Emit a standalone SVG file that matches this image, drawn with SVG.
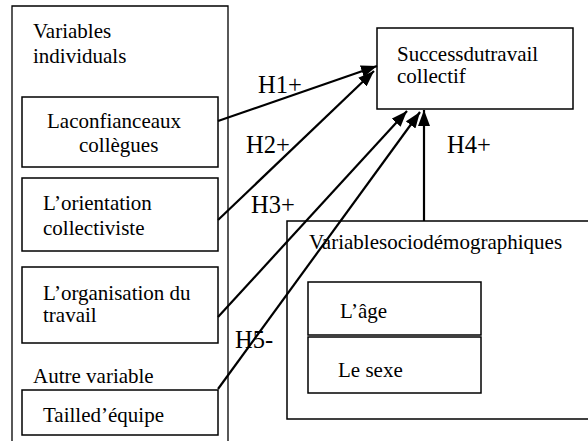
<svg xmlns="http://www.w3.org/2000/svg" width="588" height="441" viewBox="0 0 588 441">
<defs>
<style>
text{font-family:'Liberation Serif','DejaVu Serif',serif;font-size:21px;fill:#000}
.h{font-size:24.5px}
.box{fill:none;stroke:#000;stroke-width:1.5}
.outer{fill:none;stroke:#000;stroke-width:1.3}
.con{fill:none;stroke:#000;stroke-width:2.2}
</style>
<marker id="arr" markerUnits="userSpaceOnUse" markerWidth="18" markerHeight="12" refX="16" refY="6" orient="auto">
<path d="M0,0 L16,6 L0,12 z" fill="#000"/>
</marker>
</defs>
<rect width="588" height="441" fill="#fff"/>
<g id="individuals" font-family="Liberation Serif">
<path class="outer" d="M12,445 V6 H228 V445"/>
<text x="33" y="38">Variables</text>
<text x="33" y="63">individuals</text>
</g>
<g id="confiance">
<rect class="box" x="22" y="97" width="196" height="70"/>
<text x="47" y="128">Laconfianceaux</text>
<text x="79" y="152">collègues</text>
</g>
<g id="orientation">
<rect class="box" x="22" y="178" width="196" height="73"/>
<text x="43" y="210">L’orientation</text>
<text x="43" y="235">collectiviste</text>
</g>
<g id="organisation">
<rect class="box" x="22" y="267" width="196" height="76"/>
<text x="43" y="300">L’organisation du</text>
<text x="43" y="322">travail</text>
</g>
<g id="autre">
<text x="33" y="383">Autre variable</text>
</g>
<g id="taille">
<rect class="box" x="22" y="390" width="196" height="45"/>
<text x="43" y="422">Tailled’équipe</text>
</g>
<g id="succes">
<rect class="box" x="377" y="28" width="196" height="81"/>
<text x="397" y="61">Successdutravail</text>
<text x="397" y="83">collectif</text>
</g>
<g id="socio">
<rect class="box" x="287" y="221" width="310" height="198"/>
<text x="309" y="249">Variablesociodémographiques</text>
</g>
<g id="age">
<rect class="box" x="308" y="282" width="173" height="53" stroke-width="2"/>
<text x="340" y="318">L’âge</text>
</g>
<g id="sexe">
<rect class="box" x="308" y="337" width="173" height="56" stroke-width="2"/>
<text x="338" y="377">Le sexe</text>
</g>
<g id="connectors">
<line class="con" x1="218" y1="121" x2="377" y2="66" marker-end="url(#arr)"/>
<line class="con" x1="218" y1="220" x2="374" y2="71" marker-end="url(#arr)"/>
<line class="con" x1="218" y1="317" x2="407" y2="111" marker-end="url(#arr)"/>
<line class="con" x1="424" y1="221" x2="424" y2="110" marker-end="url(#arr)"/>
<line class="con" x1="218" y1="389" x2="420" y2="112" marker-end="url(#arr)"/>
<text class="h" x="258" y="93">H1+</text>
<text class="h" x="246" y="153">H2+</text>
<text class="h" x="251" y="213">H3+</text>
<text class="h" x="447" y="153">H4+</text>
<text class="h" x="235" y="348">H5-</text>
</g>
</svg>
